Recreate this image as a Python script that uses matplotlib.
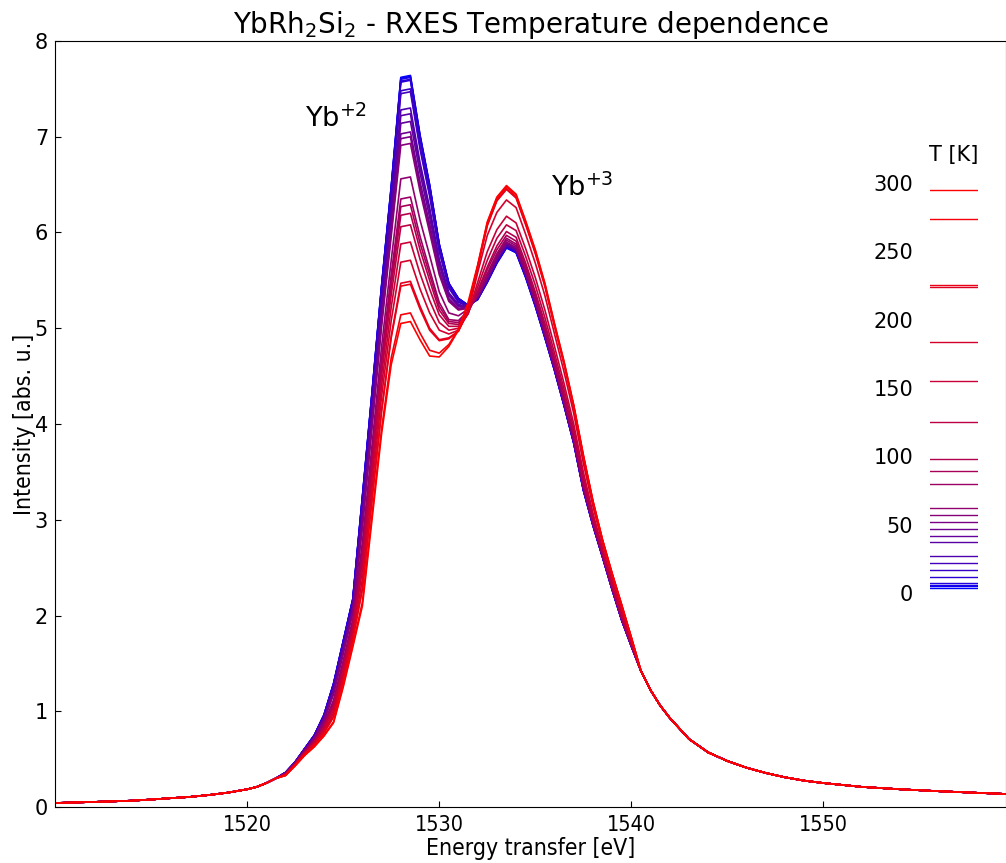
import numpy as np
import matplotlib
matplotlib.use("Agg")
import matplotlib.pyplot as plt

# ---------------- data ----------------
temperatures = [4, 5, 6, 7, 12, 17, 22, 27, 37, 42, 47, 52, 57, 62,
                80, 89, 98, 125, 155, 184, 224, 225, 274, 295]

# shared low-energy tail (all curves coincide here)
energy_left = [1510, 1511, 1512, 1513, 1514, 1515, 1516, 1517, 1518, 1519,
               1520, 1520.5, 1521, 1521.5]
intensity_left = [0.042, 0.047, 0.053, 0.059, 0.066, 0.078, 0.092, 0.105,
                  0.125, 0.150, 0.185, 0.21, 0.25, 0.30]

# region where the curves differ: 1522.0 ... 1540.0 eV, step 0.5 eV
energy_mid = [1522.0, 1522.5, 1523.0, 1523.5, 1524.0, 1524.5, 1525.0, 1525.5,
              1526.0, 1526.5, 1527.0, 1527.5, 1528.0, 1528.5, 1529.0, 1529.5,
              1530.0, 1530.5, 1531.0, 1531.5, 1532.0, 1532.5, 1533.0, 1533.5,
              1534.0, 1534.5, 1535.0, 1535.5, 1536.0, 1536.5, 1537.0, 1537.5,
              1538.0, 1538.5, 1539.0, 1539.5, 1540.0]

I_4K = [0.36, 0.47, 0.61, 0.75, 0.96, 1.29, 1.73, 2.17, 3.24, 4.33, 5.45, 6.48, 7.62, 7.64, 7.02, 6.50, 5.88, 5.47, 5.31, 5.24,
        5.30, 5.48, 5.68, 5.84, 5.79, 5.53, 5.23, 4.90, 4.56, 4.19, 3.80, 3.31, 2.94, 2.61, 2.27, 1.95, 1.68]
I_5K = [0.36, 0.47, 0.61, 0.75, 0.96, 1.29, 1.73, 2.17, 3.24, 4.32, 5.44, 6.47, 7.61, 7.63, 7.01, 6.49, 5.88, 5.47, 5.31, 5.24,
        5.30, 5.48, 5.68, 5.84, 5.79, 5.53, 5.23, 4.90, 4.56, 4.19, 3.80, 3.31, 2.94, 2.61, 2.27, 1.95, 1.68]
I_6K = [0.36, 0.47, 0.61, 0.75, 0.96, 1.29, 1.73, 2.17, 3.23, 4.32, 5.44, 6.47, 7.60, 7.62, 7.00, 6.49, 5.87, 5.46, 5.31, 5.24,
        5.30, 5.49, 5.69, 5.85, 5.80, 5.54, 5.24, 4.91, 4.56, 4.19, 3.80, 3.31, 2.94, 2.61, 2.27, 1.95, 1.68]
I_7K = [0.36, 0.47, 0.61, 0.75, 0.96, 1.28, 1.72, 2.16, 3.22, 4.31, 5.43, 6.45, 7.58, 7.60, 6.99, 6.47, 5.86, 5.46, 5.31, 5.24,
        5.31, 5.49, 5.69, 5.85, 5.80, 5.54, 5.24, 4.91, 4.57, 4.20, 3.81, 3.32, 2.95, 2.61, 2.27, 1.95, 1.68]
I_12K = [0.36, 0.47, 0.61, 0.75, 0.96, 1.28, 1.72, 2.16, 3.22, 4.30, 5.42, 6.44, 7.57, 7.59, 6.98, 6.47, 5.86, 5.46, 5.30, 5.23,
         5.31, 5.49, 5.70, 5.85, 5.80, 5.55, 5.24, 4.91, 4.57, 4.20, 3.81, 3.32, 2.95, 2.61, 2.27, 1.95, 1.68]
I_17K = [0.36, 0.47, 0.61, 0.74, 0.95, 1.27, 1.70, 2.14, 3.18, 4.26, 5.37, 6.38, 7.48, 7.50, 6.90, 6.40, 5.82, 5.43, 5.28, 5.23,
         5.31, 5.50, 5.70, 5.86, 5.81, 5.55, 5.25, 4.92, 4.57, 4.20, 3.81, 3.32, 2.95, 2.62, 2.28, 1.95, 1.68]
I_22K = [0.36, 0.47, 0.61, 0.74, 0.95, 1.26, 1.70, 2.14, 3.16, 4.24, 5.34, 6.35, 7.45, 7.47, 6.87, 6.38, 5.80, 5.42, 5.27, 5.23,
         5.31, 5.50, 5.70, 5.86, 5.81, 5.55, 5.25, 4.92, 4.57, 4.20, 3.81, 3.32, 2.95, 2.62, 2.28, 1.95, 1.68]
I_27K = [0.36, 0.46, 0.60, 0.73, 0.93, 1.24, 1.67, 2.10, 3.09, 4.15, 5.24, 6.23, 7.28, 7.30, 6.73, 6.26, 5.72, 5.37, 5.25, 5.22,
         5.32, 5.51, 5.71, 5.87, 5.82, 5.56, 5.26, 4.93, 4.58, 4.21, 3.82, 3.33, 2.95, 2.62, 2.28, 1.96, 1.68]
I_37K = [0.36, 0.46, 0.60, 0.73, 0.93, 1.23, 1.65, 2.09, 3.06, 4.12, 5.21, 6.19, 7.22, 7.24, 6.68, 6.22, 5.70, 5.36, 5.24, 5.22,
         5.32, 5.51, 5.71, 5.87, 5.82, 5.56, 5.26, 4.93, 4.58, 4.21, 3.82, 3.33, 2.95, 2.62, 2.28, 1.96, 1.68]
I_42K = [0.35, 0.46, 0.60, 0.73, 0.92, 1.21, 1.64, 2.08, 3.03, 4.08, 5.16, 6.13, 7.14, 7.16, 6.62, 6.16, 5.66, 5.34, 5.23, 5.22,
         5.32, 5.52, 5.72, 5.88, 5.83, 5.57, 5.27, 4.93, 4.59, 4.22, 3.82, 3.33, 2.96, 2.62, 2.28, 1.96, 1.69]
I_47K = [0.35, 0.46, 0.59, 0.72, 0.91, 1.20, 1.62, 2.05, 2.98, 4.02, 5.09, 6.05, 7.03, 7.05, 6.53, 6.09, 5.61, 5.31, 5.21, 5.22,
         5.33, 5.52, 5.73, 5.89, 5.83, 5.57, 5.27, 4.94, 4.59, 4.22, 3.83, 3.34, 2.96, 2.62, 2.28, 1.96, 1.69]
I_52K = [0.35, 0.46, 0.59, 0.72, 0.90, 1.19, 1.61, 2.04, 2.95, 4.00, 5.06, 6.01, 6.98, 7.00, 6.48, 6.05, 5.59, 5.29, 5.20, 5.21,
         5.33, 5.53, 5.74, 5.89, 5.84, 5.58, 5.28, 4.95, 4.60, 4.23, 3.83, 3.34, 2.96, 2.62, 2.28, 1.96, 1.69]
I_57K = [0.35, 0.46, 0.59, 0.72, 0.90, 1.18, 1.60, 2.03, 2.92, 3.96, 5.02, 5.96, 6.91, 6.93, 6.43, 6.00, 5.56, 5.28, 5.19, 5.21,
         5.33, 5.54, 5.74, 5.90, 5.84, 5.58, 5.28, 4.95, 4.60, 4.23, 3.84, 3.34, 2.96, 2.63, 2.29, 1.96, 1.69]
I_62K = [0.35, 0.45, 0.58, 0.70, 0.87, 1.12, 1.53, 1.96, 2.77, 3.78, 4.81, 5.71, 6.56, 6.58, 6.13, 5.76, 5.38, 5.16, 5.13, 5.20,
         5.34, 5.56, 5.76, 5.92, 5.86, 5.60, 5.30, 4.97, 4.62, 4.25, 3.85, 3.35, 2.97, 2.63, 2.29, 1.97, 1.69]
I_80K = [0.35, 0.45, 0.58, 0.69, 0.85, 1.09, 1.49, 1.92, 2.68, 3.67, 4.68, 5.56, 6.35, 6.37, 5.96, 5.61, 5.27, 5.09, 5.08, 5.18,
         5.35, 5.57, 5.78, 5.94, 5.88, 5.62, 5.32, 4.99, 4.63, 4.26, 3.86, 3.37, 2.98, 2.64, 2.30, 1.97, 1.69]
I_89K = [0.34, 0.45, 0.57, 0.69, 0.84, 1.07, 1.48, 1.91, 2.64, 3.63, 4.63, 5.50, 6.27, 6.29, 5.89, 5.56, 5.23, 5.07, 5.06, 5.17,
         5.37, 5.61, 5.82, 5.97, 5.91, 5.65, 5.35, 5.01, 4.66, 4.28, 3.88, 3.38, 2.99, 2.65, 2.30, 1.98, 1.70]
I_98K = [0.34, 0.45, 0.57, 0.68, 0.84, 1.06, 1.46, 1.89, 2.60, 3.58, 4.58, 5.44, 6.18, 6.20, 5.82, 5.50, 5.19, 5.05, 5.04, 5.16,
         5.39, 5.64, 5.86, 6.01, 5.95, 5.68, 5.38, 5.05, 4.69, 4.31, 3.90, 3.41, 3.01, 2.66, 2.31, 1.99, 1.70]
I_125K = [0.34, 0.45, 0.57, 0.68, 0.83, 1.04, 1.44, 1.87, 2.55, 3.52, 4.51, 5.35, 6.06, 6.08, 5.72, 5.41, 5.14, 5.02, 5.02, 5.15,
          5.43, 5.71, 5.94, 6.08, 6.02, 5.75, 5.45, 5.11, 4.74, 4.36, 3.95, 3.45, 3.04, 2.68, 2.33, 2.01, 1.71]
I_155K = [0.34, 0.44, 0.56, 0.67, 0.81, 1.01, 1.41, 1.83, 2.47, 3.43, 4.40, 5.22, 5.88, 5.90, 5.57, 5.29, 5.06, 4.98, 5.00, 5.15,
          5.48, 5.80, 6.03, 6.17, 6.10, 5.83, 5.53, 5.19, 4.81, 4.42, 4.00, 3.50, 3.07, 2.70, 2.36, 2.03, 1.73]
I_184K = [0.34, 0.44, 0.56, 0.66, 0.79, 0.98, 1.37, 1.79, 2.38, 3.33, 4.29, 5.08, 5.69, 5.71, 5.41, 5.16, 4.98, 4.94, 4.98, 5.16,
          5.58, 5.97, 6.21, 6.34, 6.26, 5.98, 5.68, 5.34, 4.94, 4.54, 4.11, 3.59, 3.14, 2.75, 2.40, 2.07, 1.75]
I_224K = [0.33, 0.44, 0.55, 0.65, 0.78, 0.95, 1.33, 1.75, 2.29, 3.22, 4.15, 4.92, 5.47, 5.49, 5.23, 5.00, 4.88, 4.90, 4.97, 5.18,
          5.64, 6.07, 6.33, 6.45, 6.36, 6.08, 5.78, 5.44, 5.02, 4.62, 4.18, 3.66, 3.18, 2.78, 2.43, 2.10, 1.76]
I_225K = [0.33, 0.44, 0.55, 0.65, 0.77, 0.94, 1.32, 1.75, 2.27, 3.20, 4.13, 4.90, 5.44, 5.46, 5.20, 4.98, 4.87, 4.89, 4.97, 5.18,
          5.64, 6.08, 6.34, 6.46, 6.37, 6.09, 5.79, 5.44, 5.03, 4.63, 4.18, 3.66, 3.19, 2.78, 2.43, 2.10, 1.77]
I_274K = [0.33, 0.43, 0.54, 0.63, 0.75, 0.89, 1.27, 1.69, 2.14, 3.05, 3.95, 4.69, 5.14, 5.16, 4.95, 4.77, 4.74, 4.83, 4.99, 5.24,
          5.65, 6.10, 6.36, 6.48, 6.39, 6.11, 5.81, 5.46, 5.04, 4.64, 4.19, 3.67, 3.19, 2.79, 2.44, 2.11, 1.77]
I_295K = [0.33, 0.43, 0.54, 0.63, 0.74, 0.88, 1.25, 1.67, 2.10, 3.00, 3.90, 4.62, 5.05, 5.07, 4.88, 4.71, 4.70, 4.81, 4.98, 5.27,
          5.66, 6.11, 6.37, 6.49, 6.40, 6.12, 5.82, 5.47, 5.05, 4.65, 4.20, 3.68, 3.20, 2.79, 2.44, 2.11, 1.77]

# shared high-energy tail
energy_right = [1540.5, 1541, 1541.5, 1542, 1543, 1544, 1545, 1546, 1547, 1548,
                1549, 1550, 1552, 1554, 1556, 1558, 1560]
intensity_right = [1.42, 1.22, 1.06, 0.93, 0.71, 0.57, 0.48, 0.41, 0.355, 0.31,
                   0.275, 0.25, 0.21, 0.185, 0.165, 0.148, 0.132]

spectra_mid = [I_4K, I_5K, I_6K, I_7K, I_12K, I_17K, I_22K, I_27K, I_37K, I_42K,
               I_47K, I_52K, I_57K, I_62K, I_80K, I_89K, I_98K, I_125K, I_155K,
               I_184K, I_224K, I_225K, I_274K, I_295K]

x_ticks = [1520, 1530, 1540, 1550]
y_ticks = [0, 1, 2, 3, 4, 5, 6, 7, 8]
t_ticks = [0, 50, 100, 150, 200, 250, 300]

# ---------------- figure ----------------
W, H = 1006, 863
fig = plt.figure(figsize=(W / 100, H / 100), dpi=100)
ax = fig.add_axes([55 / W, (H - 807) / H, (W - 55) / W, (807 - 41) / H])

n = len(temperatures)
colors = [(i / (n - 1), 0.0, 1.0 - i / (n - 1)) for i in range(n)]

for spec, col in zip(spectra_mid, colors):
    e = list(energy_left) + list(energy_mid) + list(energy_right)
    y = list(intensity_left) + list(spec) + list(intensity_right)
    ax.plot(e, y, color=col, lw=1.2)

ax.set_xlim(1510, 1559.5)
ax.set_ylim(0, 8)
ax.set_xticks(x_ticks)
ax.set_yticks(y_ticks)
ax.tick_params(direction='in', length=4, top=False, right=False)
ax.tick_params(axis='y', labelsize=15, pad=5)
ax.tick_params(axis='x', pad=6)
ax.set_xticklabels([str(v) for v in x_ticks], fontsize=15.5, fontstretch='condensed')
ax.set_xlabel('Energy transfer [eV]', fontsize=16.5, fontstretch='condensed', labelpad=1)
ax.set_ylabel('Intensity [abs. u.]', fontsize=16.5, fontstretch='condensed', labelpad=-1)
ax.set_title(r'YbRh$_2$Si$_2$ - RXES Temperature dependence', fontsize=20, pad=6)

ax.text(1523.0, 7.1, r'Yb$^{+2}$', fontsize=19.5, ha='left', va='baseline')
ax.text(1535.8, 6.38, r'Yb$^{+3}$', fontsize=19.5, ha='left', va='baseline')

# temperature scale on the right
ax_t = fig.add_axes([930 / W, (H - 593) / H, 48 / W, (593 - 183) / H])
for t, col in zip(temperatures, colors):
    ax_t.axhline(t, color=col, lw=1.0)
ax_t.set_ylim(0, 300)
ax_t.set_xlim(0, 1)
ax_t.set_xticks([])
ax_t.set_yticks(t_ticks)
ax_t.tick_params(axis='y', length=0, pad=12, labelsize=15)
for s in ax_t.spines.values():
    s.set_visible(False)
ax_t.patch.set_alpha(0)
ax_t.text(0.5, (593 - 155) / (593 - 183), 'T [K]', transform=ax_t.transAxes,
          ha='center', va='center', fontsize=15)

fig.savefig('out.png', dpi=100)
